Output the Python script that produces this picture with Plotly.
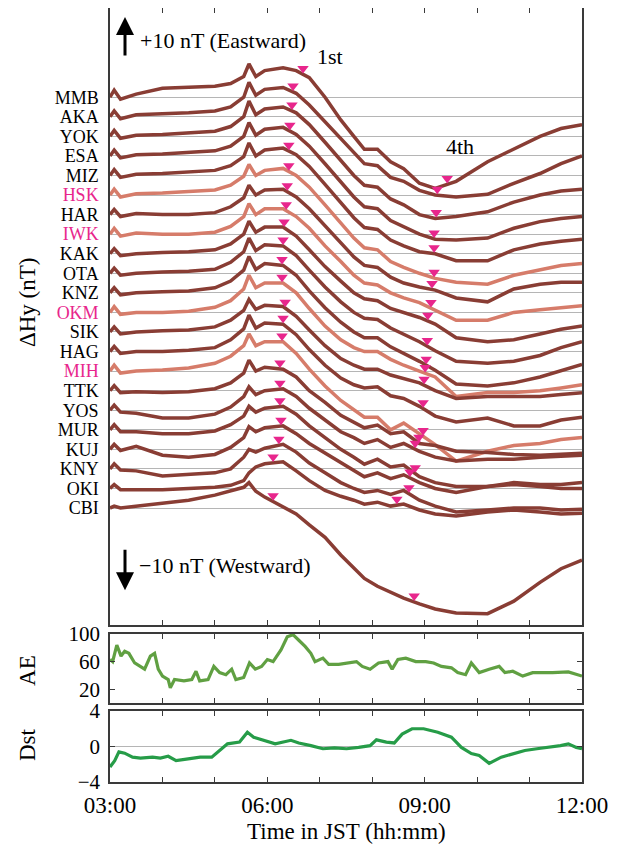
import numpy as np
import plotly.graph_objects as go
from plotly.subplots import make_subplots

# ---------------- data ----------------
hours = [3.00, 3.08, 3.20, 3.50, 4.00, 4.50, 5.00, 5.30, 5.55, 5.65, 5.78, 5.95, 6.30, 6.55, 6.80,
         7.10, 7.40, 7.65, 7.85, 8.10, 8.35, 8.60, 8.90, 9.20, 9.60, 10.20, 10.70, 11.20, 11.60, 12.00]

MMB = [0, 1.8, -0.5, 0.8, 2.3, 2.5, 2.8, 3.5, 5.3, 8.5, 5.3, 6.8, 7.5, 6.8, 5, 0, -5.8, -10, -13.3, -13.3, -16.5, -18.3, -22, -23.3, -21.5, -16.5, -13.3, -10, -8, -7]
AKA = [0, 1.5, -0.5, 0.5, 0.8, 1, 1.5, 2.5, 5, 8.8, 5.5, 7, 7.5, 6, 3, -1.3, -5.5, -9.3, -12, -12.5, -15.5, -16.5, -18.8, -20, -20.5, -19.8, -17, -14.5, -12, -10]
YOK = [0, 1.5, -0.5, 0.3, 0.5, 0.8, 1.3, 2.5, 5, 9, 5.5, 7, 7.5, 6, 3, -1.5, -6, -10, -12.5, -13, -16, -17.5, -20, -21, -20.5, -19.3, -16.8, -15, -14, -13.5]
ESA = [0, 1.5, -0.5, 0.3, 0.5, 0.8, 1.3, 2.5, 5, 8.5, 5.3, 6.8, 7.3, 5.5, 2.5, -2, -6.5, -10.5, -13, -13.5, -16.5, -18, -20, -21.3, -21.5, -21, -18.5, -16.8, -16, -15.5]
MIZ = [0, 1.5, -0.5, 0.3, 0.5, 0.8, 1.3, 2.5, 4.8, 8.3, 5, 6.5, 7, 5.3, 2.3, -2.3, -6.8, -10.8, -13.3, -13.8, -16.5, -18, -19.5, -20, -21.8, -21.8, -19, -17.5, -16.8, -16.3]
HSK = [0, 1.5, -0.5, 0.3, 0.5, 0.8, 1.3, 2.5, 4.8, 7.8, 5, 6.3, 6.8, 5, 2, -2.5, -7, -11, -13.5, -14, -17, -18.5, -20, -21.3, -22.3, -22.8, -20.5, -19, -18, -17.5]
HAR = [0, 1.3, -0.5, 0.3, 0, 0, 0.5, 2, 4.3, 7.5, 5, 6.3, 6.5, 4.5, 1.5, -2.8, -7, -10.8, -13, -13.5, -16, -17.5, -18.5, -19.3, -21.3, -22.3, -19, -17.8, -17.3, -17.3]
IWK = [0, 1.5, -0.5, 0.3, 0, 0, 0.5, 2, 4.5, 7.8, 5, 6.5, 6.5, 4.5, 1.5, -3, -7, -10.5, -12.5, -13, -15, -16.3, -17.5, -19.5, -22, -22, -20, -19.3, -18.8, -18.3]
KAK = [0, 1.3, -0.5, 0, 0.3, 0.5, 1, 2.5, 5, 8.3, 5.5, 6.8, 6.8, 4.5, 1, -3.3, -7, -10, -11.5, -12, -14, -15, -16.3, -18, -21.5, -22.5, -22, -20.5, -19.3, -18.5]
OTA = [0, 1.3, -0.5, 0, 0.3, 0.5, 1, 2.8, 5.5, 9, 5.8, 7.3, 7, 4.5, 0.8, -3.5, -7.3, -10, -11.5, -11.8, -14, -15.5, -17.5, -19.8, -22.5, -23, -22.5, -21, -19, -17.5]
KNZ = [0, 1.3, -0.5, 0, 0.3, 0.5, 1.3, 3, 5.8, 9.3, 6, 7.5, 7, 4.5, 0.5, -3.8, -7.5, -10, -11.5, -11.5, -13.8, -15.5, -17.5, -19.8, -23.3, -23.8, -23, -21.5, -19.8, -18.3]
OKM = [0, 1.5, -0.5, 0, 0, 0.3, 1.3, 3, 6, 9.5, 6.3, 7.5, 7.5, 5, 1, -3.5, -7, -9, -10, -10, -12, -13.5, -15, -16.5, -21.5, -20.5, -20.5, -20, -19.3, -18.5]
SIK = [0, 1.3, -0.5, 0, 0.3, 0.5, 1.3, 3, 5.5, 8.3, 5.8, 6.8, 6.5, 4, 0.5, -3.5, -6.8, -8.5, -9.5, -9.5, -11, -12, -13, -15, -17, -16.5, -16.5, -16.5, -16, -15.5]
HAG = [0, 1.3, -0.5, 0, 0, 0.3, 1, 3, 5.8, 9.3, 6, 7.3, 7, 4.3, 0.5, -3.5, -6.8, -8.5, -9.3, -9, -11.3, -12, -14, -16.5, -18, -17, -19, -19, -17.5, -16.8]
MIH = [0, 1.5, -0.5, 0, 0.3, 0.8, 2, 3.8, 6.5, 9.5, 6.5, 7.5, 7.5, 4.5, 0.5, -3.8, -7.5, -10, -11.8, -11.8, -15, -13.3, -16, -18.8, -23, -20.5, -19, -18.5, -17.5, -17]
TTK = [0, 1.3, -0.5, -0.3, -0.5, -0.3, 0.5, 2, 4.5, 7.8, 5, 6, 5.5, 3.5, 0, -3, -6.3, -8, -9.5, -8.8, -11, -10.5, -13.5, -14, -15.5, -15.8, -16.3, -16.5, -16.3, -16]
YOS = [0, 1.3, -0.5, -0.8, -2, -2, -1, 0.8, 3.5, 6, 4, 5, 5.5, 3.5, 0.5, -2.5, -5.5, -7, -8.5, -7.5, -9.5, -8.5, -10.5, -12, -13, -12.5, -12.5, -12, -11.8, -11.5]
MUR = [0, 1.3, -0.5, -0.5, -1, -1, -0.3, 1.3, 3.5, 6, 4.5, 5.5, 6, 4, 1, -2, -5, -7, -8.8, -7.5, -9.5, -9, -12, -13.5, -14.5, -14.5, -13.5, -14, -14, -13.5]
KUJ = [0, 1.3, -0.3, 0.8, -1.5, -2, -1.3, 0.5, 3, 5.8, 4.5, 5.5, 6, 4, 1.5, -1, -3.5, -5.5, -7, -6, -7.5, -6.5, -8.5, -10, -11, -9.5, -9, -9.5, -10, -10]
KNY = [0, 1.3, -0.3, -0.5, -1.8, -1.5, -1, 0, 3, 5, 4.3, 5.3, 6.3, 4.3, 1.5, -1, -3.5, -5, -6, -5.5, -6.5, -5.5, -8, -9.5, -11, -10.5, -10, -10, -10.5, -10.3]
OKI = [0, 1, -0.3, -0.3, -0.3, 0, 0.3, 0.8, 2, 4, 5.5, 6.3, 6.8, 4.5, 2, -0.5, -2, -3, -4, -3.5, -4.5, -4, -5.5, -6.5, -7, -6, -5.5, -6, -6.5, -6.3]
CBI = [0, 0.5, 0, 0.5, 1.3, 2, 3.3, 4.3, 5.3, 6.5, 4.3, 2.8, 0.3, -1.5, -4.3, -7.5, -12, -15.5, -18, -20, -21.5, -23, -24.5, -25.8, -26.8, -27, -23.8, -19, -15.5, -13.3]

stations = ["MMB", "AKA", "YOK", "ESA", "MIZ", "HSK", "HAR", "IWK", "KAK", "OTA", "KNZ",
            "OKM", "SIK", "HAG", "MIH", "TTK", "YOS", "MUR", "KUJ", "KNY", "OKI", "CBI"]
highlighted = ["HSK", "IWK", "OKM", "MIH"]
series = [MMB, AKA, YOK, ESA, MIZ, HSK, HAR, IWK, KAK, OTA, KNZ,
          OKM, SIK, HAG, MIH, TTK, YOS, MUR, KUJ, KNY, OKI, CBI]

# onset times (hours JST) of the 1st and 4th events, per station
onset_1st = [6.68, 6.49, 6.47, 6.43, 6.41, 6.41, 6.38, 6.36, 6.32, 6.30, 6.28,
             6.28, 6.34, 6.30, 6.28, 6.24, 6.24, 6.24, 6.26, 6.22, 6.11, 6.11]
onset_4th = [9.43, 9.24, 9.22, 9.18, 9.18, 9.18, 9.14, 9.12, 9.06, 9.05, 9.03,
             9.01, 8.99, 8.97, 8.97, 8.89, 8.82, 8.82, 8.72, 8.70, 8.47, 8.80]

ae_hours = [3.00, 3.05, 3.13, 3.21, 3.28, 3.36, 3.47, 3.66, 3.77, 3.85, 3.92, 4.00, 4.11, 4.15, 4.23,
            4.41, 4.56, 4.64, 4.71, 4.87, 4.98, 5.09, 5.21, 5.32, 5.40, 5.55, 5.66, 5.77, 5.89, 6.00,
            6.11, 6.26, 6.38, 6.49, 6.60, 6.72, 6.83, 6.91, 7.06, 7.17, 7.36, 7.51, 7.70, 7.81, 7.96,
            8.12, 8.30, 8.38, 8.49, 8.64, 8.83, 9.02, 9.17, 9.32, 9.51, 9.63, 9.78, 9.89, 10.04, 10.23,
            10.42, 10.53, 10.68, 10.87, 11.06, 11.44, 11.74, 12.00]
ae_values = [63, 60, 84, 68, 75, 72, 58, 49, 68, 72, 49, 39, 34, 22, 34,
             32, 34, 46, 32, 34, 53, 44, 41, 49, 34, 37, 58, 49, 53, 63,
             60, 77, 96, 99, 91, 82, 72, 60, 65, 56, 56, 58, 60, 53, 49,
             58, 60, 49, 63, 65, 60, 60, 58, 53, 51, 44, 41, 58, 44, 49,
             53, 44, 46, 39, 44, 44, 45, 39]

dst_hours = [3.00, 3.09, 3.17, 3.28, 3.43, 3.58, 3.81, 3.96, 4.11, 4.26, 4.49, 4.72, 4.94, 5.09, 5.24,
             5.47, 5.62, 5.74, 5.93, 6.15, 6.45, 6.60, 6.83, 7.06, 7.28, 7.51, 7.74, 7.96, 8.08, 8.27,
             8.42, 8.57, 8.76, 8.98, 9.25, 9.51, 9.70, 9.89, 10.04, 10.23, 10.46, 10.68, 10.91, 11.14,
             11.36, 11.59, 11.74, 11.89, 12.00]
dst_values = [-2.3, -1.6, -0.6, -0.75, -1.2, -1.3, -1.2, -1.3, -1.1, -1.6, -1.4, -1.2, -1.2, -0.45, 0.3,
              0.5, 1.6, 1.05, 0.7, 0.3, 0.7, 0.4, 0.1, -0.25, -0.15, -0.25, -0.1, 0.1, 0.75, 0.5,
              0.4, 1.4, 2.0, 2.0, 1.6, 1.05, -0.1, -0.8, -1.0, -1.9, -1.2, -0.8, -0.45, -0.25,
              -0.1, 0.1, 0.3, -0.1, -0.25]

time_ticks = [3, 4, 5, 6, 7, 8, 9, 10, 11, 12]
time_labels = ["03:00", "", "", "06:00", "", "", "09:00", "", "", "12:00"]

# ---------------- style ----------------
FONT = "Liberation Serif"
DARK = "rgb(137,61,52)"
LIGHT = "rgb(214,124,106)"
MAG = "rgb(232,38,140)"
AE_C = "rgb(96,160,66)"
DST_C = "rgb(38,156,72)"
AXC = "#3a3a3a"
SPACING = 5.0  # nT offset between stations

n = len(stations)
offsets = [(n - 1 - i) * SPACING for i in range(n)]

fig = make_subplots(rows=3, cols=1, shared_xaxes=False)

for name, vals, off in zip(stations, series, offsets):
    col = LIGHT if name in highlighted else DARK
    fig.add_trace(go.Scatter(x=hours, y=[v + off for v in vals], mode="lines",
                             line=dict(color=col, width=3.5), showlegend=False,
                             hoverinfo="skip"), row=1, col=1)

mx, my = [], []
for vals, off, t1, t4 in zip(series, offsets, onset_1st, onset_4th):
    for t in (t1, t4):
        mx.append(t)
        my.append(float(np.interp(t, hours, vals)) + off + 1.5)
fig.add_trace(go.Scatter(x=mx, y=my, mode="markers",
                         marker=dict(symbol="triangle-down", size=10, color=MAG, line=dict(width=0)),
                         showlegend=False, hoverinfo="skip"), row=1, col=1)

fig.add_trace(go.Scatter(x=ae_hours, y=ae_values, mode="lines",
                         line=dict(color=AE_C, width=3.2), showlegend=False), row=2, col=1)
fig.add_trace(go.Scatter(x=dst_hours, y=dst_values, mode="lines",
                         line=dict(color=DST_C, width=3.2), showlegend=False), row=3, col=1)

tick_text = [f'<span style="color:{MAG}">{s}</span>' if s in highlighted else s for s in stations]

xcommon = dict(range=[3, 12], tickvals=time_ticks, ticktext=time_labels, ticks="inside",
               ticklen=5, tickcolor=AXC, showline=True, linecolor=AXC, linewidth=1.5,
               mirror="ticks", showgrid=False, zeroline=False, automargin=False,
               tickfont=dict(family=FONT, size=23, color="black"))

# the page body adds an 8 px offset, so the figure is 8 px smaller than the window
fig.update_layout(
    width=610, height=837,
    margin=dict(l=102, r=36, t=0, b=63, autoexpand=False),
    paper_bgcolor="white", plot_bgcolor="white",
    font=dict(family=FONT, size=18, color="black"),
    xaxis=dict(xcommon, showticklabels=False, anchor="y"),
    xaxis2=dict(xcommon, showticklabels=False, anchor="y2", matches="x"),
    xaxis3=dict(xcommon, showticklabels=True, anchor="y3", matches="x", ticklabelstandoff=2),
    yaxis=dict(domain=[0.2028, 1.0], range=[-29.9, 127.8], tickvals=offsets, ticktext=tick_text,
               ticks="", showgrid=True, gridcolor="#b5b5b5", gridwidth=1, zeroline=False,
               showline=True, linecolor=AXC, linewidth=1.5, mirror=True, automargin=False,
               tickfont=dict(family=FONT, size=18, color="black"), ticklabelstandoff=6),
    yaxis2=dict(domain=[0.1021, 0.1912], range=[0, 100], tickvals=[20, 60, 100],
                ticks="inside", ticklen=5, tickcolor=AXC, showgrid=False, zeroline=False,
                showline=True, linecolor=AXC, linewidth=1.5, mirror="ticks", automargin=False,
                tickfont=dict(family=FONT, size=21, color="black"), ticklabelstandoff=4),
    yaxis3=dict(domain=[0.0, 0.0917], range=[-4, 4], tickvals=[-4, 0, 4], ticktext=["\u22124", "0", "4"],
                ticks="inside", ticklen=5, tickcolor=AXC, showgrid=True, gridcolor="#b5b5b5",
                zeroline=False, showline=True, linecolor=AXC, linewidth=1.5, mirror="ticks",
                automargin=False,
                tickfont=dict(family=FONT, size=21, color="black"), ticklabelstandoff=4),
)

ann = []
# axis titles
ann.append(dict(text="\u0394Hy (nT)", xref="paper", yref="paper", x=-0.176, y=0.62,
                xanchor="center", yanchor="middle",
                textangle=-90, showarrow=False, font=dict(family=FONT, size=23)))
ann.append(dict(text="AE", xref="paper", yref="paper", x=-0.176, y=0.1447,
                xanchor="center", yanchor="middle",
                textangle=-90, showarrow=False, font=dict(family=FONT, size=23)))
ann.append(dict(text="Dst", xref="paper", yref="paper", x=-0.176, y=0.049,
                xanchor="center", yanchor="middle",
                textangle=-90, showarrow=False, font=dict(family=FONT, size=23)))
ann.append(dict(text="Time in JST (hh:mm)", xref="paper", yref="paper", x=0.5, y=-0.064,
                xanchor="center", yanchor="middle", showarrow=False, font=dict(family=FONT, size=23)))
# direction arrows and texts
ann.append(dict(x=3.286, y=125.5, xref="x", yref="y", ax=0, ay=40, axref="pixel", ayref="pixel",
                showarrow=True, arrowhead=2, arrowsize=1.2, arrowwidth=3, arrowcolor="black", text=""))
ann.append(dict(x=3.286, y=-21.0, xref="x", yref="y", ax=0, ay=-42, axref="pixel", ayref="pixel",
                showarrow=True, arrowhead=2, arrowsize=1.2, arrowwidth=3, arrowcolor="black", text=""))
ann.append(dict(text="+10 nT (Eastward)", x=3.534, y=119.6, xref="x", yref="y", xanchor="left",
                showarrow=False, font=dict(family=FONT, size=22)))
ann.append(dict(text="\u221210 nT (Westward)", x=3.515, y=-14.6, xref="x", yref="y", xanchor="left",
                showarrow=False, font=dict(family=FONT, size=22)))
ann.append(dict(text="1st", x=6.909, y=115.3, xref="x", yref="y", xanchor="left",
                showarrow=False, font=dict(family=FONT, size=22)))
ann.append(dict(text="4th", x=9.369, y=92.5, xref="x", yref="y", xanchor="left",
                showarrow=False, font=dict(family=FONT, size=22)))
fig.update_layout(annotations=ann)

fig.write_html("out.html")
